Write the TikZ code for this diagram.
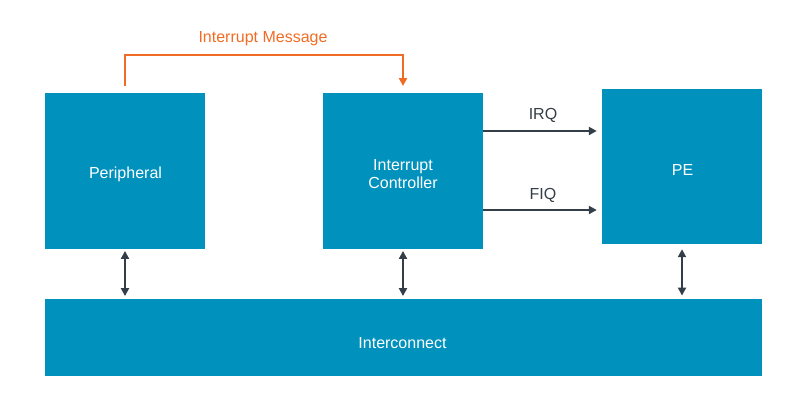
\documentclass[tikz,border=0pt]{standalone}
\usepackage{fontspec}
\setmainfont{Liberation Sans}
\usetikzlibrary{arrows.meta}
\definecolor{boxblue}{RGB}{0,145,189}
\definecolor{msgorange}{RGB}{240,108,36}
\definecolor{darkline}{RGB}{51,62,72}
\begin{document}
\begin{tikzpicture}[x=1pt,y=-1pt,
  blk/.style={fill=boxblue,draw=none,inner sep=0pt},
  blktext/.style={text=white,font=\fontsize{16}{18}\selectfont,inner sep=0pt,anchor=base},
  conn/.style={draw=darkline,line width=2.9pt,-{Triangle[length=8pt,width=8pt]}},
  biconn/.style={draw=darkline,line width=2.9pt,{Triangle[length=8pt,width=8pt]}-{Triangle[length=8pt,width=8pt]}},
  msgline/.style={draw=msgorange,line width=2.9pt,-{Triangle[length=8pt,width=8pt]}},
  lbl/.style={text=darkline,font=\fontsize{16}{18}\selectfont,inner sep=0pt,anchor=base}]
\useasboundingbox (0,0) rectangle (805,408);
\node[blk,minimum width=160pt,minimum height=155.5pt] (per) at (125,171) {};
\node[blk,minimum width=160pt,minimum height=155.5pt] (ic) at (403,171) {};
\node[blk,minimum width=160pt,minimum height=155pt] (pe) at (682,166.5) {};
\node[blk,minimum width=717pt,minimum height=77.5pt] (bus) at (403.5,337.5) {};
\node[blktext] (pertext) at (125.5,178.3) {Peripheral};
\node[blktext] (ictext1) at (403,170) {Interrupt};
\node[blktext] (ictext2) at (403,188) {Controller};
\node[blktext] (petext) at (682.5,175) {PE};
\node[blktext] (bustext) at (402.5,348) {Interconnect};
% interrupt message
\coordinate (m1) at (125,55);
\coordinate (m2) at (403,55);
\draw[msgline]
  (per.north -| m1) ++(0,-7) -- (m1) -- (m2) -- ([yshift=7pt]ic.north -| m2);
\node[text=msgorange,font=\fontsize{16}{18}\selectfont,inner sep=0pt,anchor=base] (msg) at (263,42.3) {Interrupt Message};
% IRQ / FIQ
\coordinate (irqy) at (0,131);
\coordinate (fiqy) at (0,210);
\draw[conn] (ic.east |- irqy) -- ([xshift=-5pt]pe.west |- irqy);
\draw[conn] (ic.east |- fiqy) -- ([xshift=-5pt]pe.west |- fiqy);
\node[lbl] (irq) at (543,119.5) {IRQ};
\node[lbl] (fiq) at (543,199.5) {FIQ};
% vertical bus links
\draw[biconn] ([yshift=-2pt]per.south) -- ([yshift=2.5pt]bus.north -| per.south);
\draw[biconn] ([yshift=-2pt]ic.south) -- ([yshift=2.5pt]bus.north -| ic.south);
\draw[biconn] ([yshift=-5pt]pe.south) -- ([yshift=3pt]bus.north -| pe.south);
\end{tikzpicture}
\end{document}
